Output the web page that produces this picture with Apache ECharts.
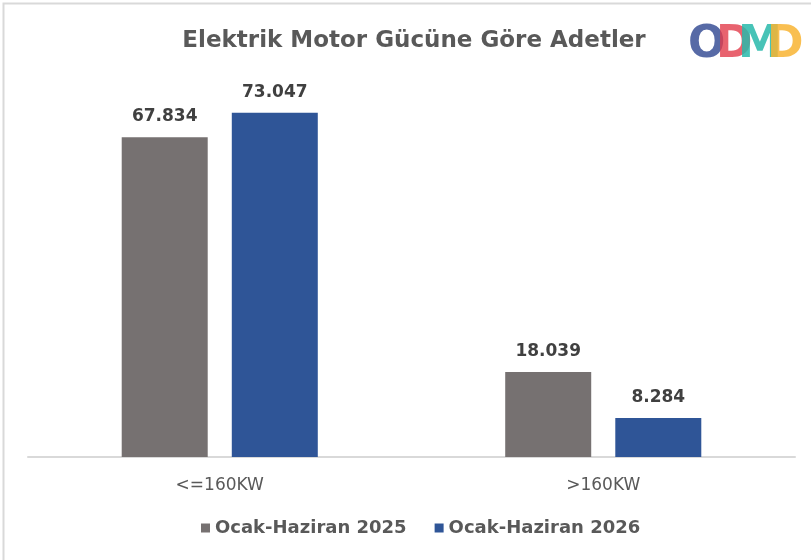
<!DOCTYPE html>
<html>
<head>
<meta charset="utf-8">
<script src="https://cdn.jsdelivr.net/npm/echarts@6/dist/echarts.min.js"></script>
<style>
  html, body { margin: 0; padding: 0; background: #fff; }
  #main { width: 811px; height: 560px; }
</style>
</head>
<body>
<div id="main"></div>
<script>
// kategoriler ve seriler
var categories = ['<=160KW', '>160KW'];
var seriesNames = ['Ocak-Haziran 2025', 'Ocak-Haziran 2026'];
var values2025 = [67834, 18039];
var values2026 = [73047, 8284];
var colors = ['#767171', '#2F5597'];

var myChart = echarts.init(document.getElementById('main'));

function fmt(v) {
    // Türkçe binlik ayırıcı
    return String(v).replace(/\B(?=(\d{3})+(?!\d))/g, '.');
}

var labelStyle = {
    show: true,
    position: 'top',
    distance: 12,
    color: '#404040',
    fontSize: 17,
    fontWeight: 'bold',
    fontFamily: 'DejaVu Sans',
    formatter: function (p) { return fmt(p.value); }
};

var option = {
    backgroundColor: '#fff',
    animation: false,
    title: {
        text: 'Elektrik Motor Gücüne Göre Adetler',
        left: 409,
        textAlign: 'center',
        top: 25,
        textStyle: {
            color: '#595959',
            fontSize: 23,
            fontWeight: 'bold',
            fontFamily: 'DejaVu Sans'
        }
    },
    legend: {
        data: seriesNames,
        bottom: 18,
        left: 196,
        itemWidth: 9,
        itemHeight: 9,
        itemGap: 28,
        icon: 'rect',
        textStyle: {
            color: '#595959',
            fontSize: 18,
            fontWeight: 'bold',
            fontFamily: 'DejaVu Sans'
        }
    },
    grid: {
        left: 28,
        right: 16,
        top: 80,
        bottom: 103
    },
    xAxis: {
        type: 'category',
        data: categories,
        axisTick: { show: false },
        axisLine: { lineStyle: { color: '#d9d9d9', width: 2 } },
        axisLabel: {
            color: '#595959',
            fontSize: 17,
            fontFamily: 'DejaVu Sans',
            margin: 20
        }
    },
    yAxis: {
        type: 'value',
        min: 0,
        max: 80000,
        show: false,
        splitLine: { show: false }
    },
    series: [
        {
            name: seriesNames[0],
            type: 'bar',
            data: values2025,
            barWidth: 86,
            barGap: '28%',
            itemStyle: { color: colors[0] },
            label: labelStyle
        },
        {
            name: seriesNames[1],
            type: 'bar',
            data: values2026,
            barWidth: 86,
            itemStyle: { color: colors[1] },
            label: labelStyle
        }
    ],
    graphic: [
        {
            // çerçeve
            type: 'rect',
            shape: { x: 3.5, y: 3.5, width: 900, height: 700 },
            style: { fill: 'none', stroke: '#d9d9d9', lineWidth: 2 },
            silent: true
        },
        // ODMD logosu
        { type: 'text', left: 688, top: 24, style: { text: 'O', fill: 'rgba(58,80,150,0.85)', font: 'bold 44px "DejaVu Sans"' } },
        { type: 'text', left: 716, top: 24, style: { text: 'D', fill: 'rgba(226,60,75,0.8)', font: 'bold 44px "DejaVu Sans"' } },
        { type: 'text', left: 738, top: 24, style: { text: 'M', fill: 'rgba(40,185,170,0.85)', font: 'bold 44px "DejaVu Sans"' } },
        { type: 'text', left: 767, top: 24, style: { text: 'D', fill: 'rgba(248,180,50,0.85)', font: 'bold 44px "DejaVu Sans"' } }
    ]
};

myChart.setOption(option);
</script>
</body>
</html>
